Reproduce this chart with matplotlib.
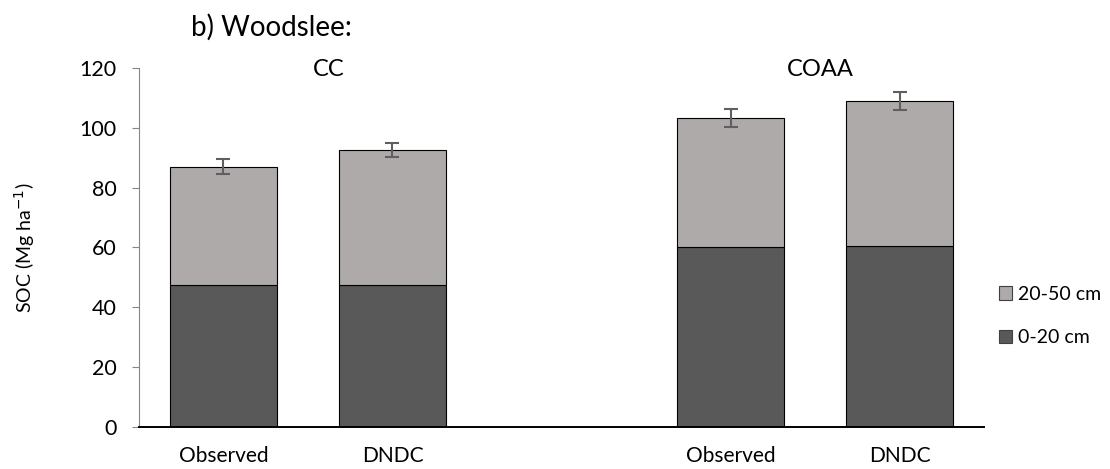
import matplotlib.pyplot as plt
from matplotlib.patches import Patch

# data
labels = ["Observed", "DNDC", "", "Observed", "DNDC"]
positions = [0, 1, 3, 4]
soc_0_20 = [47.5, 47.5, 60.2, 60.5]
soc_20_50 = [39.5, 45.1, 43.2, 48.5]
err = [2.5, 2.4, 3.0, 3.0]
groups = ["CC", "COAA"]

dark = "#595959"
light = "#AEAAAA"

plt.rcParams["font.family"] = ["Lato", "DejaVu Sans"]

fig = plt.figure(figsize=(11.1, 4.69), dpi=100)
ax = fig.add_axes([0.1252, 0.0896, 0.7613, 0.7654])

totals = [a + b for a, b in zip(soc_0_20, soc_20_50)]
ax.bar(positions, soc_0_20, width=0.63, color=dark, edgecolor="black", linewidth=0.8)
ax.bar(positions, soc_20_50, width=0.63, bottom=soc_0_20, color=light,
       edgecolor="black", linewidth=0.8)
ax.errorbar(positions, totals, yerr=err, fmt="none", ecolor="#5f5f5f",
            elinewidth=1.5, capsize=5, capthick=1.5)

ax.set_xlim(-0.5, 4.5)
ax.set_ylim(0, 120)
ax.set_yticks(range(0, 121, 20))
ax.set_xticks(range(5))
ax.set_xticklabels(labels)
ax.tick_params(axis="x", length=0, pad=14, labelsize=15)
ax.tick_params(axis="y", length=5, color="#868686", labelsize=15.5, pad=11)

for s in ["top", "right"]:
    ax.spines[s].set_visible(False)
ax.spines["left"].set_color("#868686")
ax.spines["bottom"].set_color("black")
ax.spines["bottom"].set_linewidth(1.4)

ax.set_ylabel("SOC (Mg ha$^{-1}$)", fontsize=14, labelpad=31)

# group titles
ax.text(0.62, 119.5, groups[0], ha="center", va="center", fontsize=17)
ax.text(3.53, 119.5, groups[1], ha="center", va="center", fontsize=17)
fig.text(0.172, 0.942, "b) Woodslee:", ha="left", va="center", fontsize=20)

handles = [Patch(facecolor=light, edgecolor="#404040", linewidth=0.8),
           Patch(facecolor=dark, edgecolor="#404040", linewidth=0.8)]
fig.legend(handles, ["20-50 cm", "0-20 cm"], loc="center left",
           bbox_to_anchor=(0.884, 0.326), frameon=False, fontsize=14,
           handlelength=0.7, handleheight=0.7, handletextpad=0.3,
           labelspacing=1.35)

fig.savefig("out.png", dpi=100)
